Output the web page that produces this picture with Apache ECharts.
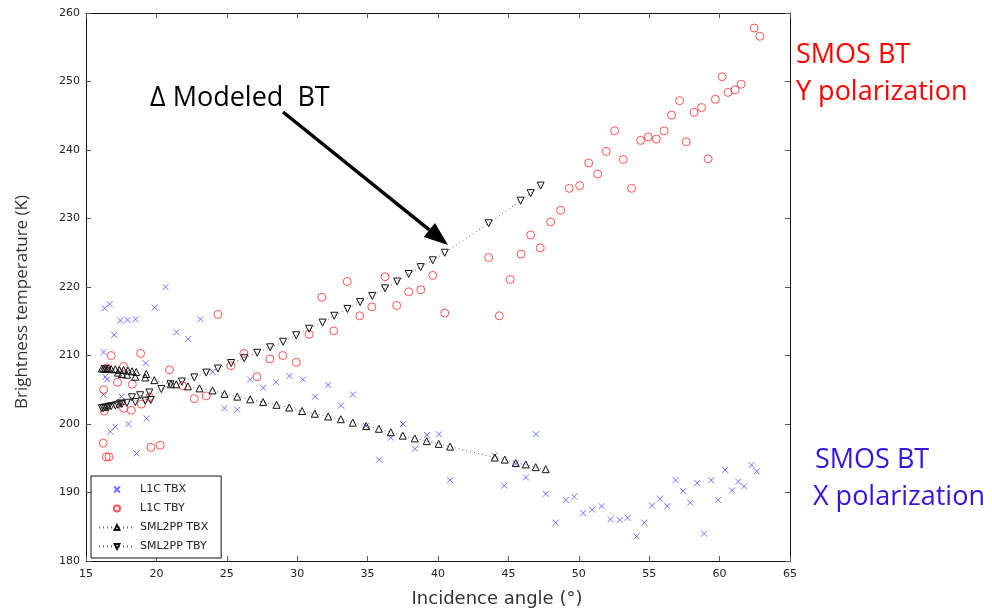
<!DOCTYPE html>
<html>
<head>
<meta charset="utf-8">
<title>SMOS BT vs incidence angle</title>
<script src="https://cdn.jsdelivr.net/npm/echarts@6/dist/echarts.min.js"></script>
<style>
  html, body { margin: 0; padding: 0; background: #fff; }
  #chart { width: 992px; height: 608px; }
</style>
</head>
<body>
<div id="chart"></div>
<script>
// 入射角 / 亮温 读数
const xTicks = [15, 20, 25, 30, 35, 40, 45, 50, 55, 60, 65]
const yTicks = [180, 190, 200, 210, 220, 230, 240, 250, 260]

const l1cTBX = [
  [46.96, 198.5], [44.03, 195.4], [44.71, 191.0], [45.52, 194.2], [46.25, 192.2], [47.65, 189.8],
  [48.36, 185.6], [49.07, 188.9], [49.68, 189.4], [50.32, 187.0], [50.95, 187.5], [51.62, 188.0],
  [52.26, 186.1], [52.9, 186.0], [53.47, 186.3], [54.1, 183.6], [54.65, 185.6], [55.21, 188.1],
  [55.78, 189.1], [56.28, 188.0], [56.87, 191.8], [57.41, 190.2], [57.91, 188.5], [58.41, 191.4],
  [58.9, 184.0], [59.4, 191.8], [59.9, 188.9], [60.39, 193.3], [60.89, 190.3], [61.32, 191.6],
  [61.74, 190.9], [62.27, 194.0], [62.64, 193.1],
  [30.4, 206.5], [32.2, 205.7], [31.27, 204.0], [33.95, 204.3], [33.12, 202.7], [34.89, 199.7],
  [37.52, 200.0], [36.65, 198.0], [35.82, 194.8], [38.37, 196.4], [39.22, 198.4], [40.07, 198.5],
  [40.86, 191.8],
  [20.65, 220.0], [16.32, 216.9], [16.68, 217.5], [17.43, 215.1], [17.95, 215.2], [18.52, 215.3],
  [19.87, 217.0], [17.0, 213.0], [21.43, 213.4], [22.26, 212.4], [23.13, 215.3], [16.25, 210.5],
  [19.23, 208.9], [16.37, 206.9], [16.5, 206.5], [23.99, 207.6], [26.66, 206.5], [27.58, 205.3],
  [28.5, 206.1], [29.45, 207.0], [16.25, 204.3], [17.53, 204.0], [24.84, 202.3], [25.74, 202.1],
  [19.31, 200.8], [16.73, 198.9], [17.08, 199.6], [18.02, 200.0], [18.59, 195.7]
]

const l1cTBY = [
  [62.45, 257.8], [62.86, 256.6], [60.18, 250.7], [61.53, 249.6], [61.1, 248.8], [60.6, 248.4],
  [59.7, 247.4], [59.19, 238.7], [58.72, 246.2], [58.19, 245.5], [57.16, 247.2], [57.63, 241.2],
  [56.59, 245.1], [56.06, 242.8], [55.5, 241.6], [54.93, 241.9], [54.39, 241.4], [53.75, 234.4],
  [53.16, 238.6], [52.54, 242.8], [51.95, 239.8], [51.34, 236.5], [50.7, 238.1], [50.06, 234.8],
  [49.32, 234.4], [48.71, 231.2], [48.0, 229.5], [47.26, 225.7], [46.58, 227.6], [45.9, 224.8],
  [43.6, 224.3], [45.13, 221.1], [44.35, 215.8], [40.48, 216.2], [39.63, 221.7], [38.78, 219.6],
  [37.92, 219.3], [37.07, 217.3], [36.24, 221.5], [35.3, 217.1], [34.44, 215.8], [33.55, 220.8],
  [32.6, 213.6], [31.75, 218.5], [30.85, 213.1], [24.37, 216.0], [26.21, 210.3], [28.06, 209.5],
  [28.98, 210.0], [29.93, 209.0], [27.14, 206.9], [25.29, 208.5], [20.93, 207.9], [18.88, 210.3],
  [16.79, 210.0], [17.67, 208.4], [16.49, 208.2], [17.24, 206.1], [18.29, 205.8], [16.25, 205.0],
  [21.86, 205.6], [22.69, 203.7], [23.54, 204.1], [19.51, 203.9], [18.93, 202.9], [17.67, 202.3],
  [18.22, 202.0], [16.3, 201.9], [16.22, 197.2], [19.61, 196.6], [20.27, 196.9], [16.44, 195.2],
  [16.63, 195.2]
]

const sml2ppTBX = [
  [16.13, 208.1], [16.25, 208.1], [16.37, 208.1], [16.49, 208.1], [16.6, 208.1], [16.79, 208.0],
  [17.08, 208.0], [17.27, 207.5], [17.36, 207.9], [17.55, 207.3], [17.67, 207.9], [17.91, 207.2],
  [17.98, 207.8], [18.27, 207.7], [18.5, 206.9], [18.57, 207.6], [19.21, 206.8], [19.28, 207.3],
  [19.85, 206.4], [21.03, 205.8], [21.41, 205.8], [22.24, 205.5], [23.06, 205.2], [23.99, 204.9],
  [24.84, 204.4], [25.74, 204.0], [26.66, 203.6], [27.58, 203.2], [28.53, 202.8], [29.43, 202.4],
  [30.35, 201.9], [31.25, 201.5], [32.2, 201.1], [33.1, 200.7], [33.95, 200.2], [34.9, 199.7],
  [35.8, 199.3], [36.65, 198.8], [37.5, 198.3], [38.35, 197.9], [39.2, 197.5], [40.05, 197.1],
  [40.86, 196.7], [44.03, 195.1], [44.74, 194.8], [45.52, 194.3], [46.23, 194.1], [46.94, 193.7],
  [47.65, 193.4]
]

const sml2ppTBY = [
  [16.13, 202.3], [16.25, 202.3], [16.37, 202.4], [16.49, 202.4], [16.6, 202.5], [16.79, 202.6],
  [17.08, 202.7], [17.27, 202.8], [17.43, 203.0], [17.55, 202.9], [17.91, 203.1], [18.26, 203.9],
  [18.5, 203.2], [18.85, 204.2], [19.21, 203.4], [19.5, 204.6], [19.6, 203.5], [20.35, 205.1],
  [21.0, 205.8], [21.81, 206.2], [22.69, 206.8], [23.54, 207.5], [24.37, 208.1], [25.31, 208.9],
  [26.24, 209.6], [27.16, 210.4], [28.08, 211.2], [29.0, 212.0], [29.93, 212.95], [30.85, 213.9],
  [31.8, 214.8], [32.63, 215.8], [33.57, 216.8], [34.47, 217.8], [35.33, 218.7], [36.24, 219.8],
  [37.1, 220.8], [37.92, 221.9], [38.77, 222.9], [39.63, 223.9], [40.48, 225.0], [43.6, 229.3],
  [45.87, 232.6], [46.58, 233.7], [47.29, 234.8]
]

const seriesNames = ['L1C TBX', 'L1C TBY', 'SML2PP TBX', 'SML2PP TBY']

const chart = echarts.init(document.getElementById('chart'), null, { renderer: 'canvas' })

const tickFont = { fontFamily: 'DejaVu Sans', fontSize: 11, color: '#222' }
const grid = { left: 86, top: 13, right: 202, bottom: 47 }

function valueAxis(range, opts) {
  return Object.assign({
    type: 'value',
    min: range[0],
    max: range[range.length - 1],
    interval: range[1] - range[0],
    axisLine: { show: true, onZero: false, lineStyle: { color: '#111', width: 1 } },
    axisTick: { show: true, inside: true, length: 5, lineStyle: { color: '#555' } },
    splitLine: { show: false }
  }, opts)
}

// 箭头：从文字指向模型曲线
const arrowFrom = [283, 112]
const arrowTip = [448, 245]
function arrowHead(from, tip, len, half) {
  const dx = tip[0] - from[0], dy = tip[1] - from[1]
  const d = Math.sqrt(dx * dx + dy * dy)
  const ux = dx / d, uy = dy / d
  const bx = tip[0] - ux * len, by = tip[1] - uy * len
  return {
    base: [bx, by],
    points: [tip, [bx - uy * half, by + ux * half], [bx + uy * half, by - ux * half]]
  }
}
const head = arrowHead(arrowFrom, arrowTip, 24, 9)

const bigFont = '27px "Open Sans"'

chart.setOption({
  animation: false,
  backgroundColor: '#fff',
  grid,
  xAxis: [
    valueAxis(xTicks, { position: 'bottom', axisLabel: Object.assign({ margin: 8 }, tickFont) }),
    valueAxis(xTicks, { position: 'top', axisLabel: { show: false } })
  ],
  yAxis: [
    valueAxis(yTicks, { position: 'left', axisLabel: Object.assign({ margin: 6 }, tickFont) }),
    valueAxis(yTicks, { position: 'right', axisLabel: { show: false } })
  ],
  legend: {
    data: seriesNames,
    orient: 'vertical',
    left: 91,
    top: 476,
    padding: [7, 13, 5, 7],
    itemWidth: 36,
    itemHeight: 6,
    itemGap: 6,
    backgroundColor: '#fff',
    borderColor: '#111',
    borderWidth: 1,
    borderRadius: 0,
    textStyle: { fontFamily: 'DejaVu Sans', fontSize: 11, lineHeight: 13, color: '#222' }
  },
  series: [
    {
      name: seriesNames[0],
      type: 'scatter',
      data: l1cTBX,
      symbol: 'path://M0 0L10 10M10 0L0 10',
      symbolSize: 6,
      itemStyle: { color: 'rgba(0,0,0,0)', borderColor: '#4d4dff', borderWidth: 1 },
      z: 3
    },
    {
      name: seriesNames[1],
      type: 'scatter',
      data: l1cTBY,
      symbol: 'circle',
      symbolSize: 8,
      itemStyle: { color: 'rgba(0,0,0,0)', borderColor: '#ff2b2b', borderWidth: 1 },
      z: 3
    },
    {
      name: seriesNames[2],
      type: 'line',
      data: sml2ppTBX,
      symbol: 'triangle',
      symbolSize: 7,
      showAllSymbol: true,
      lineStyle: { color: '#666', width: 1, type: [1, 3] },
      itemStyle: { color: 'rgba(0,0,0,0)', borderColor: '#111', borderWidth: 1 },
      z: 4
    },
    {
      name: seriesNames[3],
      type: 'line',
      data: sml2ppTBY,
      symbol: 'triangle',
      symbolRotate: 180,
      symbolSize: 7,
      showAllSymbol: true,
      lineStyle: { color: '#666', width: 1, type: [1, 3] },
      itemStyle: { color: 'rgba(0,0,0,0)', borderColor: '#111', borderWidth: 1 },
      z: 4
    }
  ],
  graphic: [
    {
      type: 'text', x: 22, y: 302, rotation: Math.PI / 2,
      style: { text: 'Brightness temperature (K)', font: '17px "Open Sans"', fill: '#333', align: 'center', verticalAlign: 'middle' }
    },
    {
      type: 'text', x: 497, y: 599,
      style: { text: 'Incidence angle (°)', font: '18px "DejaVu Sans"', fill: '#333', align: 'center', verticalAlign: 'middle' }
    },
    {
      type: 'text', x: 150, y: 98,
      style: { text: 'Δ Modeled  BT', font: bigFont, fill: '#000', align: 'left', verticalAlign: 'middle' }
    },
    {
      type: 'line',
      shape: { x1: arrowFrom[0], y1: arrowFrom[1], x2: head.base[0], y2: head.base[1] },
      style: { stroke: '#000', lineWidth: 3.5 }
    },
    {
      type: 'polygon',
      shape: { points: head.points },
      style: { fill: '#000' }
    },
    {
      type: 'text', x: 796, y: 55,
      style: { text: 'SMOS BT', font: bigFont, fill: '#ff0000', verticalAlign: 'middle' }
    },
    {
      type: 'text', x: 796, y: 92,
      style: { text: 'Y polarization', font: bigFont, fill: '#ff0000', verticalAlign: 'middle' }
    },
    {
      type: 'text', x: 815, y: 460,
      style: { text: 'SMOS BT', font: bigFont, fill: '#3314dd', verticalAlign: 'middle' }
    },
    {
      type: 'text', x: 813, y: 497,
      style: { text: 'X polarization', font: bigFont, fill: '#3314dd', verticalAlign: 'middle' }
    }
  ]
})
</script>
</body>
</html>
